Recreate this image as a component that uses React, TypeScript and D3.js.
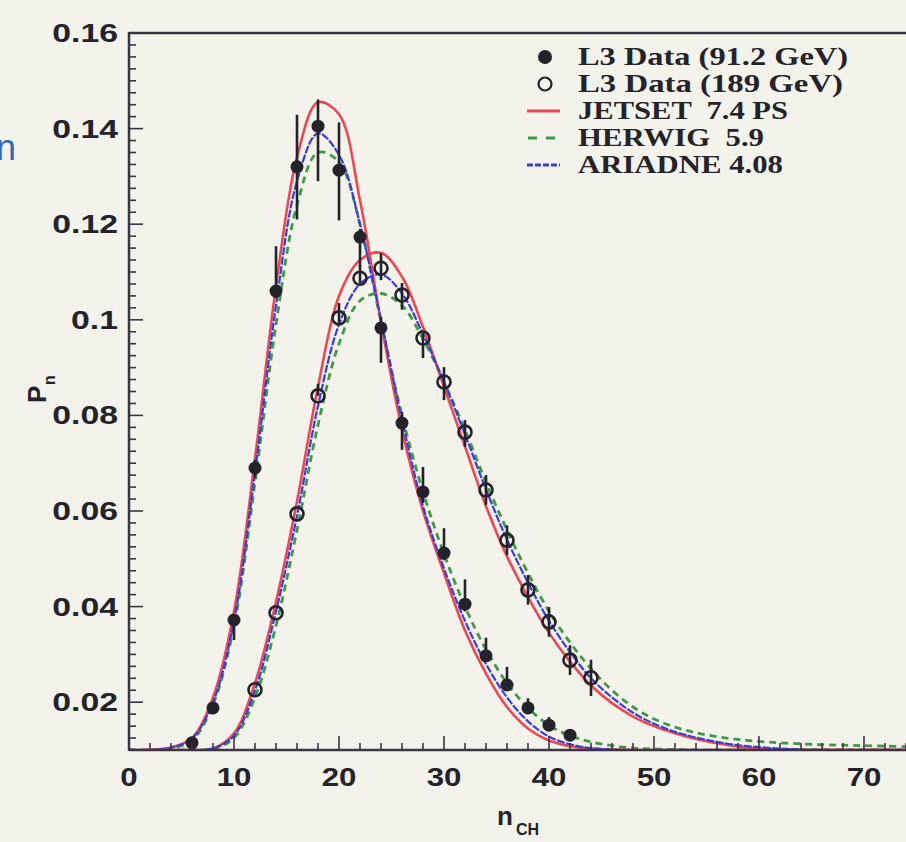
import React from 'react';
import * as d3 from 'd3';

// n_ch grid used to sample the model curves
const nGrid = [0, 2, 4, 6, 8, 10, 12, 14, 16, 18, 20, 22, 24, 26, 28, 30, 32, 34, 36, 38,
  40, 42, 44, 46, 48, 50, 52, 54, 56, 58, 60, 62, 64, 66, 68, 70, 72, 74];

// 91.2 GeV model curves
const jetset91 = [0.0100, 0.0100, 0.0105, 0.0125, 0.0210, 0.0390, 0.0710, 0.1070, 0.1340, 0.1455,
  0.1430, 0.1250, 0.0995, 0.0770, 0.0600, 0.0470, 0.0350, 0.0260, 0.0190, 0.0145,
  0.0120, 0.0108, 0.0103, 0.0101, 0.0100, 0.0100, 0.0100, 0.0100, 0.0100, 0.0100,
  0.0100, 0.0100, 0.0100, 0.0100, 0.0100, 0.0100, 0.0100, 0.0100];
const herwig91 = [0.0100, 0.0100, 0.0104, 0.0120, 0.0195, 0.0360, 0.0660, 0.0990, 0.1240, 0.1350,
  0.1330, 0.1200, 0.0995, 0.0800, 0.0640, 0.0510, 0.0400, 0.0310, 0.0240, 0.0188,
  0.0152, 0.0130, 0.0117, 0.0109, 0.0104, 0.0102, 0.0101, 0.0100, 0.0100, 0.0100,
  0.0100, 0.0100, 0.0100, 0.0100, 0.0100, 0.0100, 0.0100, 0.0100];
const ariadne91 = [0.0100, 0.0100, 0.0105, 0.0124, 0.0200, 0.0370, 0.0680, 0.1030, 0.1290, 0.1390,
  0.1345, 0.1200, 0.1000, 0.0790, 0.0610, 0.0480, 0.0370, 0.0280, 0.0210, 0.0160,
  0.0128, 0.0112, 0.0104, 0.0101, 0.0100, 0.0100, 0.0100, 0.0100, 0.0100, 0.0100,
  0.0100, 0.0100, 0.0100, 0.0100, 0.0100, 0.0100, 0.0100, 0.0100];

// 189 GeV model curves
const jetset189 = [0.0100, 0.0100, 0.0100, 0.0100, 0.0103, 0.0135, 0.0240, 0.0410, 0.0620, 0.0860,
  0.1050, 0.1125, 0.1140, 0.1090, 0.0985, 0.0860, 0.0735, 0.0610, 0.0505, 0.0420,
  0.0345, 0.0285, 0.0235, 0.0198, 0.0170, 0.0150, 0.0135, 0.0123, 0.0114, 0.0107,
  0.0103, 0.0101, 0.0100, 0.0100, 0.0100, 0.0100, 0.0100, 0.0100];
const herwig189 = [0.0100, 0.0100, 0.0100, 0.0100, 0.0102, 0.0125, 0.0210, 0.0360, 0.0560, 0.0780,
  0.0950, 0.1040, 0.1055, 0.1030, 0.0960, 0.0870, 0.0770, 0.0660, 0.0560, 0.0470,
  0.0390, 0.0325, 0.0270, 0.0225, 0.0190, 0.0165, 0.0148, 0.0136, 0.0128, 0.0122,
  0.0118, 0.0115, 0.0113, 0.0111, 0.0110, 0.0109, 0.0108, 0.0107];
const ariadne189 = [0.0100, 0.0100, 0.0100, 0.0100, 0.0103, 0.0130, 0.0225, 0.0390, 0.0590, 0.0820,
  0.0990, 0.1075, 0.1095, 0.1055, 0.0970, 0.0870, 0.0760, 0.0645, 0.0540, 0.0450,
  0.0370, 0.0305, 0.0250, 0.0210, 0.0178, 0.0155, 0.0138, 0.0126, 0.0117, 0.0110,
  0.0106, 0.0103, 0.0101, 0.0100, 0.0100, 0.0100, 0.0100, 0.0100];

// L3 data, 91.2 GeV (filled)
const n91 = [6, 8, 10, 12, 14, 16, 18, 20, 22, 24, 26, 28, 30, 32, 34, 36, 38, 40, 42];
const p91 = [0.0115, 0.0188, 0.0372, 0.0690, 0.1060, 0.1320, 0.1405, 0.1313, 0.1173, 0.0983,
  0.0784, 0.0640, 0.0512, 0.0405, 0.0297, 0.0236, 0.0188, 0.0152, 0.0131];
const up91 = [0, 0.0006, 0.0010, 0.0017, 0.0094, 0.0109, 0.0056, 0.0100, 0.0017, 0.0023,
  0.0023, 0.0052, 0.0052, 0.0052, 0.0038, 0.0038, 0.0020, 0.0017, 0.0010];
const dn91 = [0, 0.0006, 0.0042, 0.0020, 0.0015, 0.0110, 0.0115, 0.0105, 0.0063, 0.0073,
  0.0056, 0.0023, 0.0015, 0.0015, 0.0008, 0.0008, 0.0008, 0.0006, 0.0006];

// L3 data, 189 GeV (open)
const n189 = [12, 14, 16, 18, 20, 22, 24, 26, 28, 30, 32, 34, 36, 38, 40, 42, 44];
const p189 = [0.0226, 0.0387, 0.0594, 0.0841, 0.1004, 0.1087, 0.1108, 0.1052, 0.0962, 0.0870,
  0.0765, 0.0644, 0.0539, 0.0435, 0.0368, 0.0288, 0.0251];
const up189 = [0, 0, 0, 0.0025, 0.0031, 0.0025, 0.0031, 0.0025, 0.0010, 0.0031,
  0.0025, 0.0031, 0.0031, 0.0031, 0.0031, 0.0031, 0.0038];
const dn189 = [0, 0, 0, 0, 0.0010, 0.0010, 0.0025, 0.0031, 0.0042, 0.0038,
  0.0031, 0.0031, 0.0031, 0.0031, 0.0031, 0.0031, 0.0038];

const xTickLabels = [0, 10, 20, 30, 40, 50, 60, 70];
const yTickLabels = ['0.02', '0.04', '0.06', '0.08', '0.1', '0.12', '0.14', '0.16'];
const legendLabels = ['L3 Data (91.2 GeV)', 'L3 Data (189 GeV)', 'JETSET  7.4 PS', 'HERWIG  5.9', 'ARIADNE 4.08'];
const legendWidths = [270, 265, 210, 186, 205];

const RED = '#ea4852';
const GREEN = '#3f9a45';
const BLUE = '#3c3cd8';
const INK = '#24222a';
const AXIS = '#3a3445';

const W = 906;
const H = 842;
const left = 129;
const top = 33;
const bottom = 750;

const x = d3.scaleLinear().domain([0, 74]).range([left, W]);
const y = d3.scaleLinear().domain([0.01, 0.16]).range([bottom, top]).clamp(true);

const line = d3.line<number>()
  .x((d, i) => x(nGrid[i]))
  .y(d => y(d))
  .curve(d3.curveCatmullRom);

const sans = '"Liberation Sans", Arial, sans-serif';
const serif = '"Liberation Serif", "Times New Roman", serif';

const Label = ({ x, y, anchor, size, sx, children }: any) => (
  <text transform={`translate(${x},${y}) scale(${sx},1)`} textAnchor={anchor}
    fontFamily={sans} fontWeight="bold" fontSize={size} fill={INK}>{children}</text>
);

export default function App() {
  const xMinor = x.ticks(37);
  const yMinor = d3.range(0.01, 0.16001, 0.0025);
  const legendY = [57, 84, 111, 138, 165];

  return (
    <svg width={W} height={H} style={{ display: 'block', position: 'absolute', left: 0, top: 0 }}>
      <defs>
        <clipPath id="plot">
          <rect x={left} y={top} width={W - left} height={bottom - top} />
        </clipPath>
      </defs>
      <rect x={0} y={0} width={W} height={H} fill="#f3f3ec" />

      {/* stray letter from the slide, cut by the left edge */}
      <text x={-4} y={160} fontFamily={sans} fontSize={36} fill="#2f6db5">n</text>

      {/* model curves */}
      <g clipPath="url(#plot)" fill="none" strokeLinejoin="round">
        <path d={line(herwig91) || ''} stroke={GREEN} strokeWidth={2.8} strokeDasharray="7,5" />
        <path d={line(herwig189) || ''} stroke={GREEN} strokeWidth={2.8} strokeDasharray="7,5" />
        <path d={line(jetset91) || ''} stroke={RED} strokeWidth={2.6} />
        <path d={line(jetset189) || ''} stroke={RED} strokeWidth={2.6} />
        <path d={line(ariadne91) || ''} stroke={BLUE} strokeWidth={2.2} strokeDasharray="8,1.5" />
        <path d={line(ariadne189) || ''} stroke={BLUE} strokeWidth={2.2} strokeDasharray="8,1.5" />
      </g>

      {/* data points */}
      <g stroke={INK} strokeWidth={2.6}>
        {n91.map((n, i) => (
          <g key={'f' + n}>
            <line x1={x(n)} x2={x(n)} y1={y(p91[i] + up91[i])} y2={y(p91[i] - dn91[i])} />
            <circle cx={x(n)} cy={y(p91[i])} r={6.5} fill={INK} stroke="none" />
          </g>
        ))}
        {n189.map((n, i) => (
          <g key={'o' + n}>
            <line x1={x(n)} x2={x(n)} y1={y(p189[i] + up189[i])} y2={y(p189[i] - dn189[i])} />
            <circle cx={x(n)} cy={y(p189[i])} r={6.5} fill="none" />
          </g>
        ))}
      </g>

      {/* frame and ticks */}
      <g stroke={AXIS}>
        <line x1={left} x2={W} y1={top} y2={top} strokeWidth={2.5} />
        <line x1={left} x2={left} y1={top - 1} y2={bottom + 1} strokeWidth={2.5} />
        <line x1={left} x2={W} y1={bottom} y2={bottom} strokeWidth={2.5} />
        {xMinor.map(t => (
          <line key={'xt' + t} x1={x(t)} x2={x(t)} y1={bottom}
            y2={bottom - (t % 10 === 0 ? 14 : 7)} strokeWidth={1.6} />
        ))}
        {yMinor.map((t, i) => (
          <line key={'yt' + i} x1={left} x2={left + (i % 8 === 4 ? 14 : 7)} y1={y(t)} y2={y(t)} strokeWidth={1.6} />
        ))}
      </g>

      {/* tick labels */}
      {xTickLabels.map(t => (
        <Label key={'xl' + t} x={x(t)} y={786} anchor="middle" size={26} sx={1.2}>{t}</Label>
      ))}
      {yTickLabels.map(t => (
        <Label key={'yl' + t} x={118} y={y(+t) + 9} anchor="end" size={26} sx={1.3}>{t}</Label>
      ))}

      {/* axis titles */}
      <text x={497} y={825} fontFamily={sans} fontWeight="bold" fontSize={26} fill={INK}>n</text>
      <text x={516} y={835} fontFamily={sans} fontWeight="bold" fontSize={16} fill={INK}>CH</text>
      <g transform="translate(46,403) rotate(-90)">
        <text x={0} y={0} fontFamily={sans} fontWeight="bold" fontSize={26} fill={INK}>P</text>
        <text x={18} y={9} fontFamily={sans} fontWeight="bold" fontSize={16} fill={INK}>n</text>
      </g>

      {/* legend */}
      <g>
        <circle cx={545} cy={legendY[0]} r={7} fill={INK} />
        <circle cx={545} cy={legendY[1]} r={6.5} fill="none" stroke={INK} strokeWidth={2.2} />
        <line x1={527} x2={560} y1={legendY[2]} y2={legendY[2]} stroke={RED} strokeWidth={3} />
        <line x1={528} x2={560} y1={legendY[3]} y2={legendY[3]} stroke={GREEN} strokeWidth={3} strokeDasharray="9,9" />
        <line x1={527} x2={560} y1={legendY[4]} y2={legendY[4]} stroke={BLUE} strokeWidth={3} strokeDasharray="6,2" />
        {legendLabels.map((s, i) => (
          <text key={s} x={578} y={legendY[i] + 8} fontFamily={serif} fontWeight="bold" fontSize={25}
            fill={INK} textLength={legendWidths[i]} lengthAdjust="spacingAndGlyphs"
            style={{ whiteSpace: 'pre' }}>{s}</text>
        ))}
      </g>
    </svg>
  );
}
